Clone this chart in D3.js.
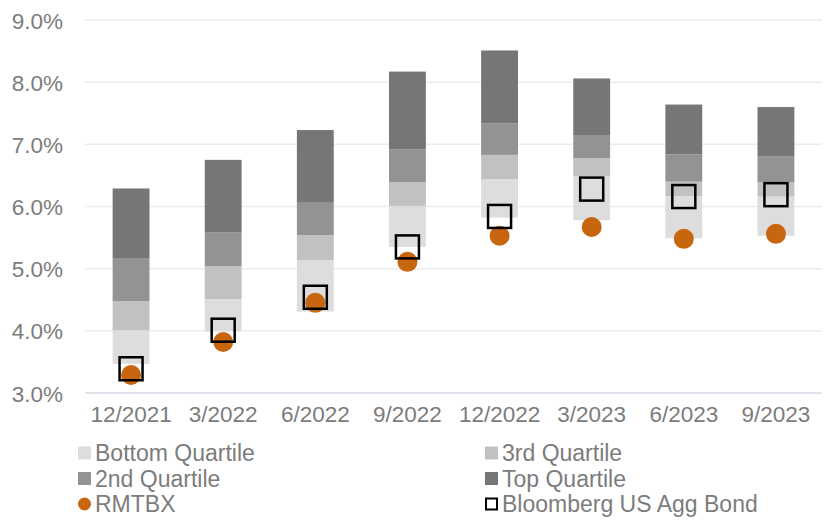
<!DOCTYPE html>
<html>
<head>
<meta charset="utf-8">
<script src="https://cdn.jsdelivr.net/npm/d3@7"></script>
<style>
  body { margin: 0; background: #fff; }
  text { font-family: "Liberation Sans", Arial, sans-serif; fill: #7c7c7c; }
</style>
</head>
<body>
<script>
// chart data
var categories = ["12/2021", "3/2022", "6/2022", "9/2022", "12/2022", "3/2023", "6/2023", "9/2023"];
var lowVals    = [3.47, 3.99, 4.31, 5.35, 5.82, 5.78, 5.49, 5.53];
var p25Vals    = [4.01, 4.51, 5.14, 6.01, 6.44, 6.49, 6.17, 6.16];
var medVals    = [4.48, 5.04, 5.54, 6.39, 6.83, 6.78, 6.40, 6.39];
var p75Vals    = [5.16, 5.58, 6.06, 6.92, 7.34, 7.15, 6.84, 6.81];
var highVals   = [6.29, 6.75, 7.23, 8.17, 8.51, 8.06, 7.64, 7.60];
var bloomberg  = [3.39, 4.01, 4.54, 5.35, 5.84, 6.28, 6.16, 6.19];
var rmtbx      = [3.29, 3.82, 4.45, 5.11, 5.53, 5.67, 5.48, 5.56];
var yTicks     = [3, 4, 5, 6, 7, 8, 9];

var quartiles = [
  {name: "Bottom Quartile", color: "#dddddd", lo: lowVals, hi: p25Vals},
  {name: "3rd Quartile",    color: "#c1c1c1", lo: p25Vals, hi: medVals},
  {name: "2nd Quartile",    color: "#939393", lo: medVals, hi: p75Vals},
  {name: "Top Quartile",    color: "#767676", lo: p75Vals, hi: highVals}
];
var dotColor = "#c8650f";

var W = 837, H = 521;
var svg = d3.select("body").append("svg")
    .attr("width", W)
    .attr("height", H);

var x = d3.scaleBand()
    .domain(categories)
    .range([85, 822])
    .paddingInner(0.6)
    .paddingOuter(0.3);

var y = d3.scaleLinear()
    .domain([3, 9])
    .range([393, 20]);

// gridlines
svg.append("g")
  .selectAll("line")
  .data(yTicks.filter(function(d) { return d > 3; }))
  .enter().append("line")
    .attr("x1", 85).attr("x2", 822)
    .attr("y1", function(d) { return y(d); })
    .attr("y2", function(d) { return y(d); })
    .attr("stroke", "#ececec")
    .attr("stroke-width", 1.5);

// y axis labels
var yAxis = svg.append("g")
    .attr("transform", "translate(85,0)")
    .call(d3.axisLeft(y).tickValues(yTicks).tickSize(0).tickPadding(22)
      .tickFormat(function(d) { return d3.format(".1f")(d) + "%"; }));
yAxis.select(".domain").remove();
yAxis.selectAll("text")
    .style("font-size", "22.5px")
    .attr("fill", "#7c7c7c")
    .attr("dy", "0.36em");

// x axis
var xAxis = svg.append("g")
    .attr("transform", "translate(0,393)")
    .call(d3.axisBottom(x).tickSize(0).tickPadding(13));
xAxis.select(".domain")
    .attr("d", "M85,0H822")
    .attr("stroke", "#d6dbe6")
    .attr("stroke-width", 1.5);
xAxis.selectAll("text")
    .style("font-size", "22.5px")
    .attr("fill", "#7c7c7c");

// stacked quartile bars
quartiles.forEach(function(q) {
  svg.append("g")
    .selectAll("rect")
    .data(categories)
    .enter().append("rect")
      .attr("x", function(d) { return x(d); })
      .attr("width", x.bandwidth())
      .attr("y", function(d, i) { return y(q.hi[i]); })
      .attr("height", function(d, i) { return y(q.lo[i]) - y(q.hi[i]); })
      .attr("fill", q.color);
});

// RMTBX dots
svg.append("g")
  .selectAll("circle")
  .data(rmtbx)
  .enter().append("circle")
    .attr("cx", function(d, i) { return x(categories[i]) + x.bandwidth() / 2; })
    .attr("cy", function(d) { return y(d); })
    .attr("r", 10)
    .attr("fill", dotColor);

// Bloomberg squares
var sq = 23;
svg.append("g")
  .selectAll("rect")
  .data(bloomberg)
  .enter().append("rect")
    .attr("x", function(d, i) { return x(categories[i]) + x.bandwidth() / 2 - sq / 2; })
    .attr("y", function(d) { return y(d) - sq / 2; })
    .attr("width", sq)
    .attr("height", sq)
    .attr("fill", "none")
    .attr("stroke", "#000")
    .attr("stroke-width", 2.5);

// legend
var legendItems = [
  {name: "Bottom Quartile", type: "rect", color: "#dddddd", col: 0, row: 0},
  {name: "3rd Quartile", type: "rect", color: "#c1c1c1", col: 1, row: 0},
  {name: "2nd Quartile", type: "rect", color: "#939393", col: 0, row: 1},
  {name: "Top Quartile", type: "rect", color: "#767676", col: 1, row: 1},
  {name: "RMTBX", type: "dot", color: dotColor, col: 0, row: 2},
  {name: "Bloomberg US Agg Bond", type: "box", color: "#000", col: 1, row: 2}
];
var colX = [78, 485];
var rowY = [453, 478.5, 504];

var leg = svg.append("g")
  .selectAll("g")
  .data(legendItems)
  .enter().append("g")
    .attr("transform", function(d) { return "translate(" + colX[d.col] + "," + rowY[d.row] + ")"; });

leg.each(function(d) {
  var g = d3.select(this);
  if (d.type == "rect") {
    g.append("rect").attr("x", 0).attr("y", -6.5).attr("width", 13).attr("height", 13).attr("fill", d.color);
  } else if (d.type == "dot") {
    g.append("circle").attr("cx", 6.5).attr("cy", 0).attr("r", 6.5).attr("fill", d.color);
  } else {
    g.append("rect").attr("x", 1).attr("y", -5.5).attr("width", 11).attr("height", 11)
      .attr("fill", "none").attr("stroke", d.color).attr("stroke-width", 2);
  }
  g.append("text")
    .attr("x", 17)
    .attr("y", 0)
    .attr("dy", "0.35em")
    .style("font-size", "23px")
    .text(d.name);
});
</script>
</body>
</html>
